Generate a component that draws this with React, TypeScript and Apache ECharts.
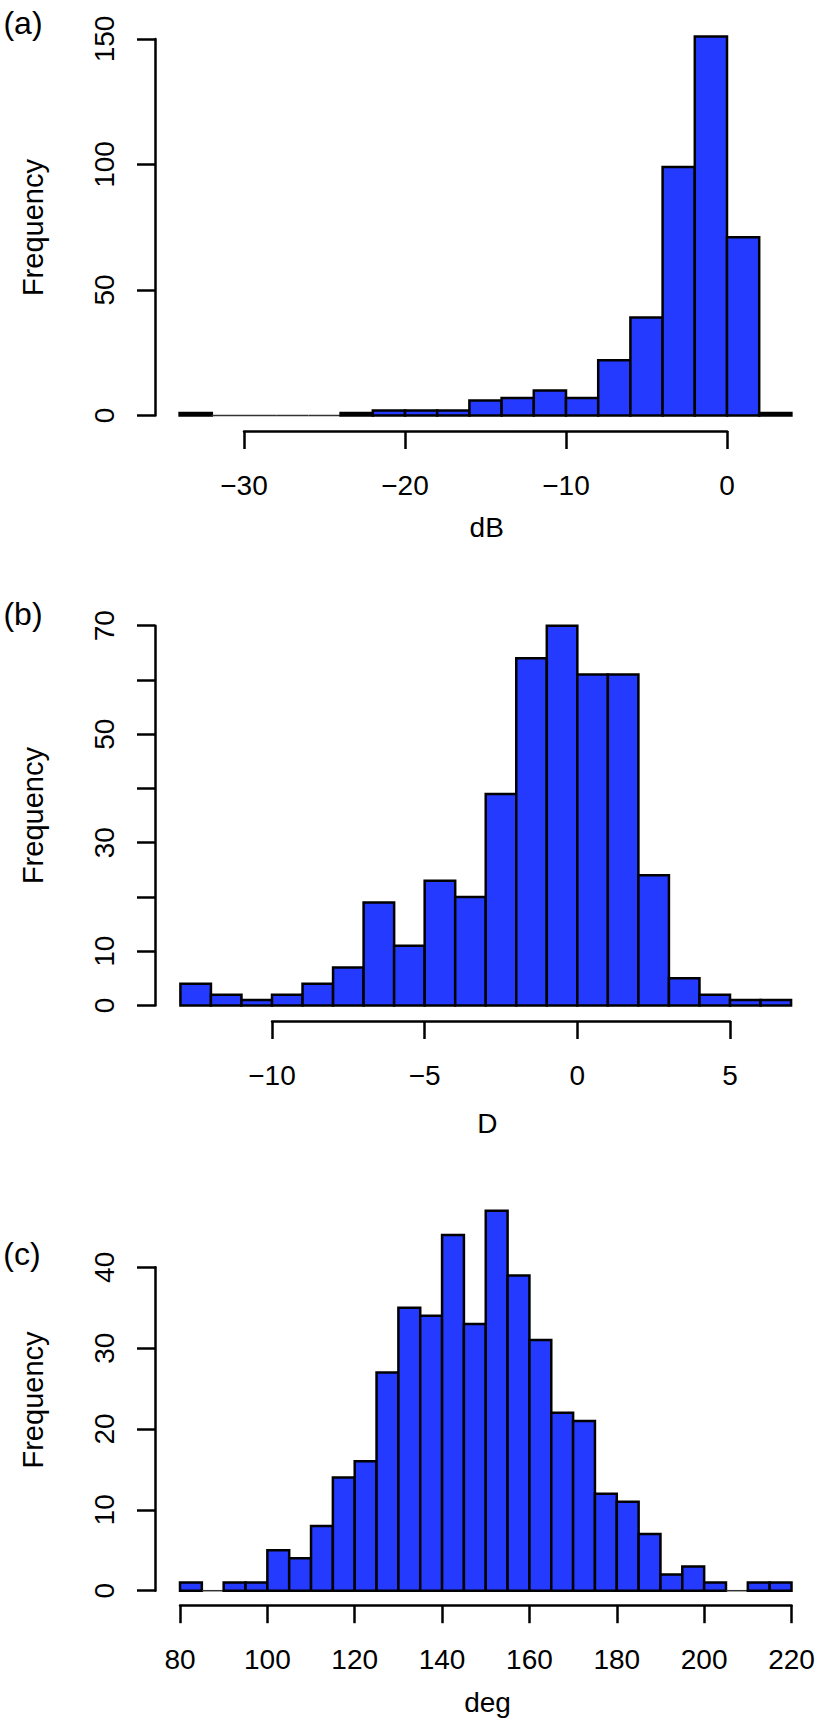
import React, { useEffect, useRef } from "react";
import * as echarts from "echarts";

// ---- data ----
const dbEdges = [-34, -32, -30, -28, -26, -24, -22, -20, -18, -16, -14, -12, -10, -8, -6, -4, -2, 0, 2, 4];
const dbCounts = [1, 0, 0, 0, 0, 1, 2, 2, 2, 6, 7, 10, 7, 22, 39, 99, 151, 71, 1];
const dbXTicks = [-30, -20, -10, 0];
const dbYTicks = [0, 50, 100, 150];

const dEdges = [-13, -12, -11, -10, -9, -8, -7, -6, -5, -4, -3, -2, -1, 0, 1, 2, 3, 4, 5, 6, 7];
const dCounts = [4, 2, 1, 2, 4, 7, 19, 11, 23, 20, 39, 64, 70, 61, 61, 24, 5, 2, 1, 1];
const dXTicks = [-10, -5, 0, 5];
const dYTicks = [0, 10, 20, 30, 40, 50, 60, 70];
const dYLabels = [0, 10, 30, 50, 70];

const degEdges = [80, 85, 90, 95, 100, 105, 110, 115, 120, 125, 130, 135, 140, 145, 150, 155, 160, 165, 170, 175, 180, 185, 190, 195, 200, 205, 210, 215, 220];
const degCounts = [1, 0, 1, 1, 5, 4, 8, 14, 16, 27, 35, 34, 44, 33, 47, 39, 31, 22, 21, 12, 11, 7, 2, 3, 1, 0, 1, 1];
const degXTicks = [80, 100, 120, 140, 160, 180, 200, 220];
const degYTicks = [0, 10, 20, 30, 40];

const panelTags = ["(a)", "(b)", "(c)"];
const xTitles = ["dB", "D", "deg"];
const yTitle = "Frequency";

// ---- styles / layout ----
const FONT = "'Liberation Sans', Arial, Helvetica, sans-serif";
const BLUE = "#243bff";
const TICK_FS = 28;
const LW = 2.5;

const layout = [
  { grid: { left: 244, top: 39, width: 483, height: 376.5 }, yOffset: 89, xOffset: 15.5, tag: [23, 22.5], ytitle: [32.5, 227.6], xtitle: [486.7, 527] },
  { grid: { left: 272, top: 625.7, width: 458, height: 379.8 }, yOffset: 117, xOffset: 15.5, tag: [23, 614], ytitle: [32.5, 815.6], xtitle: [487.3, 1123.5] },
  { grid: { left: 180, top: 1267.3, width: 611.5, height: 323.4 }, yOffset: 25, xOffset: 14.5, tag: [22, 1254], ytitle: [32.5, 1400], xtitle: [487.5, 1702] },
];

const toBins = (edges: number[], counts: number[]) => counts.map((c, i) => [edges[i], edges[i + 1], c]);

const panelsData = [
  { bins: toBins(dbEdges, dbCounts), xTicks: dbXTicks, yTicks: dbYTicks, yLabels: dbYTicks },
  { bins: toBins(dEdges, dCounts), xTicks: dXTicks, yTicks: dYTicks, yLabels: dYLabels },
  { bins: toBins(degEdges, degCounts), xTicks: degXTicks, yTicks: degYTicks, yLabels: degYTicks },
];

const fmtNum = (v: number) => (v < 0 ? "\u2212" + Math.abs(v) : String(v));

const renderHist = (params: any, api: any) => {
  const x0 = api.value(0);
  const x1 = api.value(1);
  const c = api.value(2);
  const pTop = api.coord([x0, c]);
  const pBot = api.coord([x1, 0]);
  if (c === 0) {
    return {
      type: "line",
      shape: { x1: pTop[0], y1: pBot[1], x2: pBot[0], y2: pBot[1] },
      style: { stroke: "#333", lineWidth: 1.5 },
    };
  }
  return {
    type: "rect",
    shape: { x: pTop[0], y: pTop[1], width: pBot[0] - pTop[0], height: pBot[1] - pTop[1] },
    style: { fill: BLUE, stroke: "#000", lineWidth: LW },
  };
};

function buildOption() {
  const grids: any[] = [];
  const xAxes: any[] = [];
  const yAxes: any[] = [];
  const series: any[] = [];
  const graphics: any[] = [];

  panelsData.forEach((p, i) => {
    const L = layout[i];
    grids.push({ ...L.grid, containLabel: false, outerBoundsMode: "none" });
    const xt = p.xTicks;
    const yt = p.yTicks;
    xAxes.push({
      type: "value",
      gridIndex: i,
      position: "bottom",
      offset: L.xOffset,
      min: xt[0],
      max: xt[xt.length - 1],
      interval: xt[1] - xt[0],
      axisLine: { show: true, onZero: false, lineStyle: { color: "#000", width: LW } },
      axisTick: { show: true, inside: false, length: 18, lineStyle: { color: "#000", width: LW } },
      axisLabel: {
        show: true,
        margin: 40,
        color: "#000",
        fontFamily: FONT,
        fontSize: TICK_FS,
        formatter: (v: number) => fmtNum(v),
      },
      splitLine: { show: false },
    });
    const labelSet = p.yLabels;
    yAxes.push({
      type: "value",
      gridIndex: i,
      position: "left",
      offset: L.yOffset,
      min: yt[0],
      max: yt[yt.length - 1],
      interval: yt[1] - yt[0],
      axisLine: { show: true, onZero: false, lineStyle: { color: "#000", width: LW } },
      axisTick: { show: true, inside: false, length: 18, lineStyle: { color: "#000", width: LW } },
      axisLabel: {
        show: true,
        rotate: 90,
        margin: 37,
        color: "#000",
        fontFamily: FONT,
        fontSize: TICK_FS,
        formatter: (v: number) => (labelSet.indexOf(v) >= 0 ? fmtNum(v) : ""),
      },
      splitLine: { show: false },
    });
    series.push({
      type: "custom",
      xAxisIndex: i,
      yAxisIndex: i,
      clip: false,
      encode: { x: [0, 1], y: 2 },
      data: p.bins,
      renderItem: renderHist,
    });
    graphics.push({
      type: "text",
      x: L.tag[0],
      y: L.tag[1],
      style: { text: panelTags[i], fill: "#000", font: `32px ${FONT}`, textAlign: "center", textVerticalAlign: "middle" },
    });
    graphics.push({
      type: "text",
      x: L.ytitle[0],
      y: L.ytitle[1],
      rotation: Math.PI / 2,
      style: { text: yTitle, fill: "#000", font: `29px ${FONT}`, textAlign: "center", textVerticalAlign: "middle" },
    });
    graphics.push({
      type: "text",
      x: L.xtitle[0],
      y: L.xtitle[1],
      style: { text: xTitles[i], fill: "#000", font: `28px ${FONT}`, textAlign: "center", textVerticalAlign: "middle" },
    });
  });

  return {
    animation: false,
    backgroundColor: "#fff",
    grid: grids,
    xAxis: xAxes,
    yAxis: yAxes,
    series,
    graphic: graphics,
  };
}

export default function App() {
  const ref = useRef<HTMLDivElement>(null);
  useEffect(() => {
    if (!ref.current) return;
    const chart = echarts.init(ref.current, null, { renderer: "svg" });
    chart.setOption(buildOption() as any);
    return () => chart.dispose();
  }, []);
  return (
    <div
      ref={ref}
      style={{ position: "absolute", left: 0, top: 0, width: 825, height: 1722, background: "#fff" }}
    />
  );
}
